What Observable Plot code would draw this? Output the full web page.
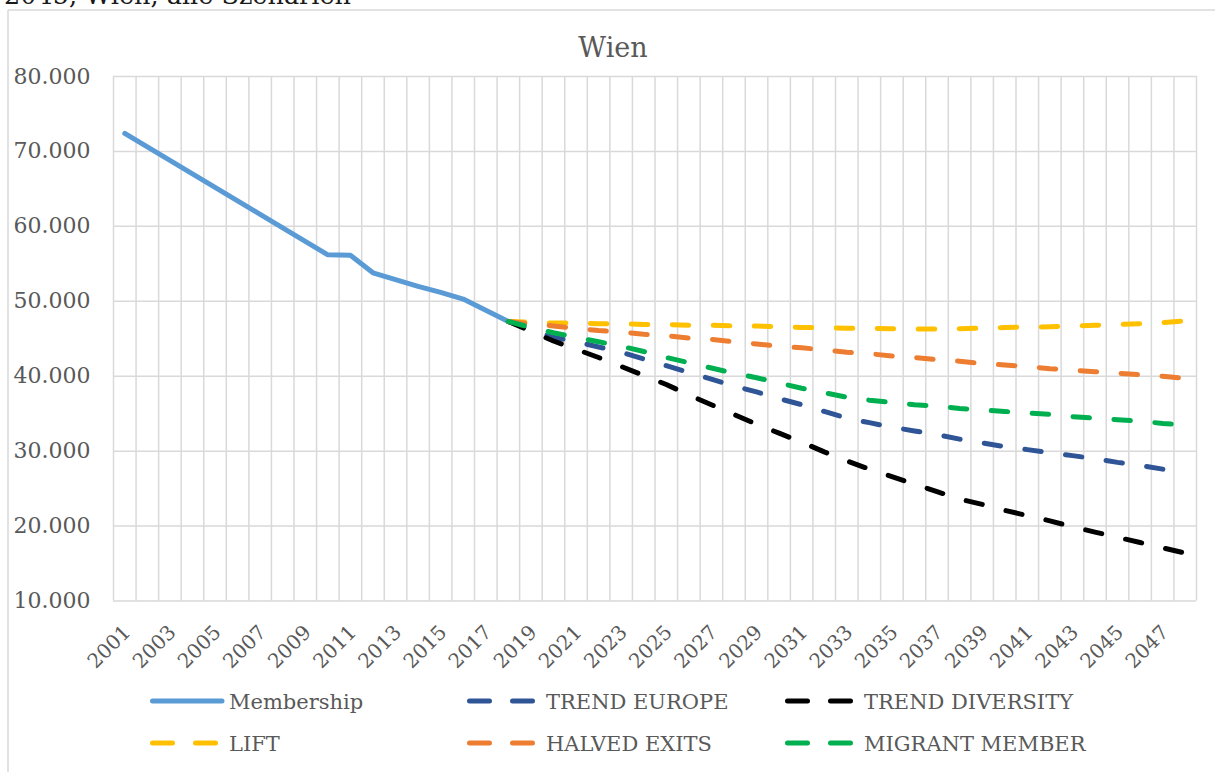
<!DOCTYPE html>
<html>
<head>
<meta charset="utf-8">
<script src="https://cdn.jsdelivr.net/npm/d3@7"></script>
<script src="https://cdn.jsdelivr.net/npm/@observablehq/plot@0.6"></script>
<style>
  body { margin: 0; background: #fff; }
  #wrap { position: relative; width: 1215px; height: 772px; overflow: hidden; background: #fff; font-family: "DejaVu Serif", serif; }
  #chart { position: absolute; left: 0; top: 0; }
  #overlay { position: absolute; left: 0; top: 0; pointer-events: none; }
</style>
</head>
<body>
<div id="wrap">
  <div id="chart"></div>
  <svg id="overlay" width="1215" height="772"></svg>
</div>
<script>
// ---------- data ----------
const captionText = "2045, Wien, alle Szenarien";
const titleText = "Wien";

const historyYears = [2001, 2002, 2003, 2004, 2005, 2006, 2007, 2008, 2009, 2010, 2011, 2012, 2013, 2014, 2015, 2016, 2017, 2018];
const membership = [72400, 70600, 68800, 67000, 65200, 63400, 61600, 59800, 58000, 56200, 56150, 53800, 52900, 52000, 51200, 50300, 48800, 47300];

const scenarioYears = [2018, 2019, 2020, 2021, 2022, 2023, 2024, 2025, 2026, 2027, 2028, 2029, 2030, 2031, 2032, 2033, 2034, 2035, 2036, 2037, 2038, 2039, 2040, 2041, 2042, 2043, 2044, 2045, 2046, 2047, 2048];
const trendEurope = [47300, 46200, 45200, 44600, 43900, 43200, 42300, 41400, 40500, 39600, 38700, 37900, 37000, 36200, 35300, 34400, 33800, 33200, 32700, 32200, 31600, 31100, 30600, 30200, 29800, 29400, 29000, 28500, 28100, 27600, 27200];
const trendDiversity = [47300, 46000, 44700, 43600, 42500, 41300, 40100, 38900, 37500, 36200, 34900, 33600, 32400, 31200, 29900, 28700, 27600, 26600, 25600, 24600, 23600, 22900, 22100, 21400, 20700, 19900, 19200, 18500, 17800, 17100, 16400];
const lift = [47300, 47200, 47100, 47100, 47000, 47000, 46900, 46900, 46800, 46800, 46700, 46700, 46600, 46500, 46500, 46400, 46400, 46350, 46300, 46300, 46350, 46400, 46500, 46550, 46600, 46700, 46800, 46900, 47000, 47150, 47400];
const halvedExits = [47300, 47000, 46700, 46400, 46100, 45900, 45600, 45400, 45100, 44900, 44600, 44300, 44000, 43800, 43500, 43200, 43000, 42700, 42500, 42200, 42000, 41700, 41500, 41300, 41000, 40800, 40600, 40400, 40200, 40000, 39700];
const migrantMember = [47300, 46500, 45800, 45200, 44600, 44000, 43300, 42500, 41800, 41100, 40400, 39800, 39100, 38400, 37800, 37200, 36800, 36500, 36200, 36000, 35700, 35500, 35300, 35100, 34900, 34600, 34400, 34200, 34000, 33700, 33500];

const categories = d3.range(2001, 2049);            // 2001 … 2048
const xTickLabels = [2001, 2003, 2005, 2007, 2009, 2011, 2013, 2015, 2017, 2019, 2021, 2023, 2025, 2027, 2029, 2031, 2033, 2035, 2037, 2039, 2041, 2043, 2045, 2047];
const yTicks = [10000, 20000, 30000, 40000, 50000, 60000, 70000, 80000];

const seriesNames = ["Membership", "TREND EUROPE", "TREND DIVERSITY", "LIFT", "HALVED EXITS", "MIGRANT MEMBER"];
const seriesColors = ["#5B9BD5", "#2F5597", "#000000", "#FFC000", "#ED7D31", "#00B050"];

// ---------- tables ----------
const histRows = historyYears.map((year, i) => ({year, value: membership[i], series: "Membership"}));
const scenarioValues = [trendEurope, trendDiversity, lift, halvedExits, migrantMember];
const scenarioRows = scenarioValues.map((vals, k) =>
  scenarioYears.map((year, i) => ({year, value: vals[i], series: seriesNames[k + 1]})));

const fmt = d3.formatLocale({decimal: ",", thousands: ".", grouping: [3], currency: ["", ""]}).format(",.0f");
const boundaries = [categories[0] - 0.5, ...categories.map(c => c + 0.5)];
const grid = "#d9d9d9";
const textCol = "#595959";

const marks = [
  Plot.ruleX(boundaries, {stroke: grid, strokeWidth: 1.5}),
  Plot.ruleY(yTicks, {stroke: grid, strokeWidth: 1.5}),
  Plot.line(histRows, {x: "year", y: "value", stroke: seriesColors[0], strokeWidth: 5, strokeLinejoin: "round", strokeLinecap: "round"})
];
scenarioRows.forEach((rows, k) => {
  marks.push(Plot.line(rows, {x: "year", y: "value", stroke: seriesColors[k + 1], strokeWidth: 5,
    strokeDasharray: "16.5,24.5", strokeLinecap: "round", strokeLinejoin: "round"}));
});
marks.push(
  Plot.axisY(yTicks, {tickSize: 0, tickPadding: 23, tickFormat: fmt, fontSize: 22, fill: textCol}),
  Plot.axisX(xTickLabels, {tickSize: 0, tickRotate: -45, tickPadding: 28, dx: 2.5, fontSize: 20, fill: textCol, tickFormat: d => String(d)})
);

const chart = Plot.plot({
  width: 1215,
  height: 680,
  marginLeft: 113,
  marginRight: 19,
  marginTop: 76,
  marginBottom: 79.5,
  x: {type: "linear", domain: [categories[0] - 0.5, categories[categories.length - 1] + 0.5], label: null},
  y: {domain: [10000, 80000], label: null},
  style: {background: "transparent", fontFamily: "DejaVu Serif", fontSize: "22px", overflow: "visible", color: textCol},
  marks
});
document.getElementById("chart").appendChild(chart);

// ---------- overlay: frame, caption, title, legend ----------
const ov = d3.select("#overlay");
ov.append("line").attr("x1", 8).attr("y1", 10).attr("x2", 1215).attr("y2", 10).attr("stroke", grid).attr("stroke-width", 1.5);
ov.append("line").attr("x1", 8).attr("y1", 10).attr("x2", 8).attr("y2", 772).attr("stroke", grid).attr("stroke-width", 1.5);

ov.append("text").attr("x", 4).attr("y", 4).attr("font-family", "DejaVu Serif").attr("font-size", 25.5)
  .attr("fill", "#1a1a1a").text(captionText);

ov.append("text").attr("x", 613).attr("y", 57).attr("text-anchor", "middle").attr("font-family", "DejaVu Serif")
  .attr("font-size", 27).attr("fill", textCol).text(titleText);

const legendX = [150, 467, 785];
const legendY = [701, 743];
const legendOrder = ["Membership", "TREND EUROPE", "TREND DIVERSITY", "LIFT", "HALVED EXITS", "MIGRANT MEMBER"];
legendOrder.forEach((name, i) => {
  const x = legendX[i % 3], y = legendY[Math.floor(i / 3)];
  const col = seriesColors[seriesNames.indexOf(name)];
  const g = ov.append("g");
  if (name === "Membership") {
    g.append("line").attr("x1", x + 2.5).attr("x2", x + 72).attr("y1", y).attr("y2", y)
      .attr("stroke", col).attr("stroke-width", 5).attr("stroke-linecap", "round");
  } else {
    g.append("line").attr("x1", x + 2.5).attr("x2", x + 68).attr("y1", y).attr("y2", y)
      .attr("stroke", col).attr("stroke-width", 5).attr("stroke-linecap", "round").attr("stroke-dasharray", "20,23");
  }
  g.append("text").attr("x", x + 79).attr("y", y).attr("dy", "0.36em").attr("font-family", "DejaVu Serif")
    .attr("font-size", 21).attr("fill", textCol).text(name);
});
</script>
</body>
</html>
